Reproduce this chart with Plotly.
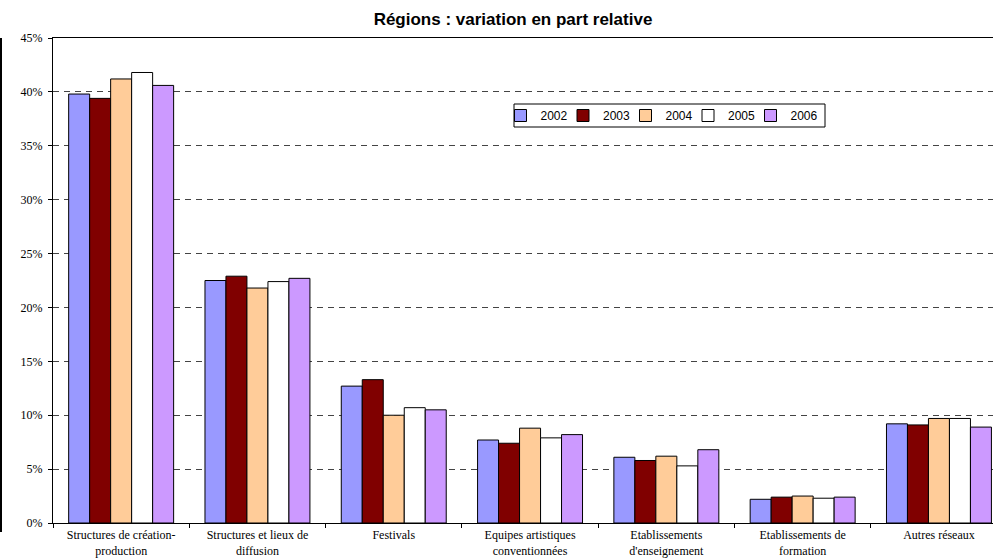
import plotly.graph_objects as go

categories = [
    "Structures de création-<br>production",
    "Structures et lieux de<br>diffusion",
    "Festivals",
    "Equipes artistiques<br>conventionnées",
    "Etablissements<br>d'enseignement",
    "Etablissements de<br>formation",
    "Autres réseaux",
]
years = ["2002", "2003", "2004", "2005", "2006"]
v2002 = [39.8, 22.5, 12.7, 7.7, 6.1, 2.2, 9.2]
v2003 = [39.4, 22.9, 13.3, 7.4, 5.8, 2.4, 9.1]
v2004 = [41.2, 21.8, 10.0, 8.8, 6.2, 2.5, 9.7]
v2005 = [41.8, 22.4, 10.7, 7.9, 5.3, 2.3, 9.7]
v2006 = [40.6, 22.7, 10.5, 8.2, 6.8, 2.4, 8.9]
series = [v2002, v2003, v2004, v2005, v2006]
colors = ["#9999FF", "#800000", "#FFCC99", "#FFFFFF", "#CC99FF"]
ytickvals = [0, 5, 10, 15, 20, 25, 30, 35, 40, 45]
yticktext = ["0%", "5%", "10%", "15%", "20%", "25%", "30%", "35%", "40%", "45%"]

W, H = 993, 560
L, R, T, B = 53, 0, 38, 37
plot_w = W - L - R
plot_h = H - T - B
cat_px = 136.3
span = plot_w / cat_px


def px_x(px):
    return (px - L) / plot_w


def px_y(py):
    return (H - B - py) / plot_h


legend_ids = ["legend", "legend2", "legend3", "legend4", "legend5"]

fig = go.Figure()
for name, vals, col, lid in zip(years, series, colors, legend_ids):
    fig.add_trace(go.Bar(
        name=name, x=categories, y=vals, legend=lid,
        marker=dict(color=col, line=dict(color="#000000", width=1)),
    ))

legend_font = dict(family="Liberation Sans, Arial", size=12, color="black")
legends = {}
for i, lid in enumerate(legend_ids):
    legends[lid] = dict(orientation="h", x=px_x(500.5 + 62.5 * i), xanchor="left",
                        y=px_y(101), yanchor="top", visible=True,
                        borderwidth=0, bgcolor="rgba(0,0,0,0)",
                        font=legend_font, itemwidth=30)

# legend frame (pixel positions)
lx0, lx1, ly0, ly1 = 514, 825, 104, 127

fig.update_layout(
    width=W, height=H,
    margin=dict(l=L, r=R, t=T, b=B),
    paper_bgcolor="white", plot_bgcolor="white",
    barmode="group", bargap=0.23, bargroupgap=0,
    showlegend=True,
    title=dict(text="<b>Régions : variation en part relative</b>",
               x=513 / W, xanchor="center", xref="container",
               y=1 - 19 / H, yanchor="middle", yref="container",
               font=dict(family="Liberation Sans, Arial", size=17, color="black")),
    xaxis=dict(type="category", range=[-0.5, -0.5 + span], automargin=False,
               tickson="boundaries", ticks="outside", ticklen=4, tickcolor="black",
               showline=True, linecolor="black", linewidth=1, mirror=True,
               showgrid=False, ticklabelstandoff=1,
               tickfont=dict(family="Liberation Serif, Times New Roman", size=12, color="black")),
    yaxis=dict(range=[0, 45], tickvals=ytickvals, ticktext=yticktext, automargin=False,
               ticks="outside", ticklen=4, tickcolor="black",
               showline=True, linecolor="black", linewidth=1,
               showgrid=True, gridcolor="#444444", gridwidth=1, griddash="6px,5px",
               zeroline=False, ticklabelstandoff=3,
               tickfont=dict(family="Liberation Serif, Times New Roman", size=12, color="black")),
    shapes=[
        dict(type="line", xref="paper", yref="paper",
             x0=(-L + 1) / plot_w, x1=(-L + 1) / plot_w,
             y0=1, y1=-9 / plot_h,
             line=dict(color="black", width=2)),
        dict(type="rect", xref="paper", yref="paper", layer="above",
             x0=px_x(lx0), x1=px_x(lx1), y0=px_y(ly1), y1=px_y(ly0),
             fillcolor="rgba(0,0,0,0)", line=dict(color="black", width=1)),
    ],
    **legends,
)

fig.write_html("out.html", config={"displayModeBar": False},
               post_script="document.body.style.margin='0';")
